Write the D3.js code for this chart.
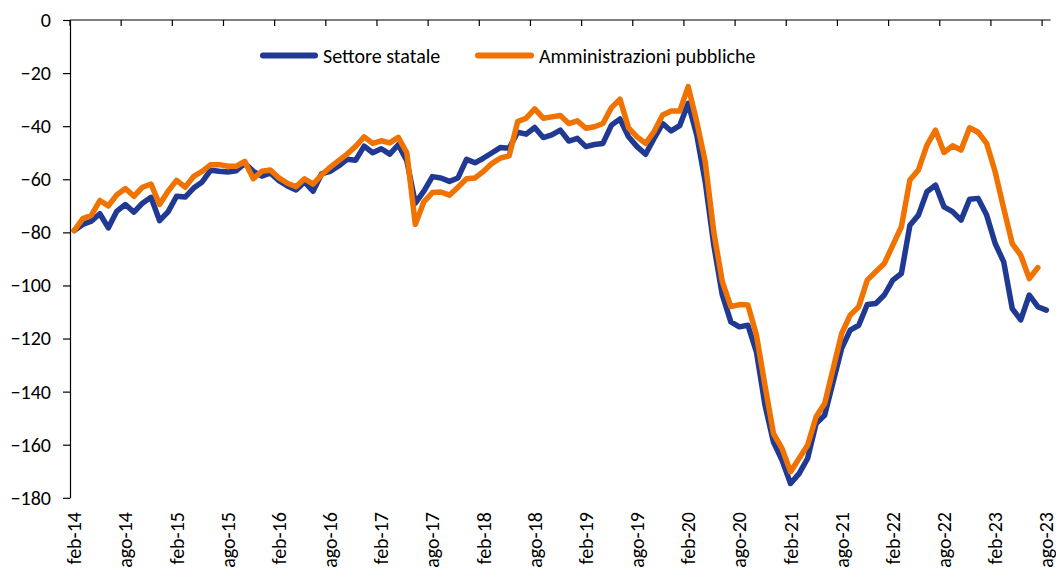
<!DOCTYPE html>
<html>
<head>
<meta charset="utf-8">
<script src="https://cdn.jsdelivr.net/npm/d3@7"></script>
<style>
  html, body { margin: 0; padding: 0; background: #fff; }
  svg { display: block; }
  text { font-family: Carlito, Calibri, Lato, "Noto Sans", sans-serif; fill: #000; }
</style>
</head>
<body>
<svg id="chart" width="1056" height="570"></svg>
<script>
const categories = [
  "feb-14","mar-14","apr-14","mag-14","giu-14","lug-14","ago-14","set-14","ott-14","nov-14","dic-14","gen-15",
  "feb-15","mar-15","apr-15","mag-15","giu-15","lug-15","ago-15","set-15","ott-15","nov-15","dic-15","gen-16",
  "feb-16","mar-16","apr-16","mag-16","giu-16","lug-16","ago-16","set-16","ott-16","nov-16","dic-16","gen-17",
  "feb-17","mar-17","apr-17","mag-17","giu-17","lug-17","ago-17","set-17","ott-17","nov-17","dic-17","gen-18",
  "feb-18","mar-18","apr-18","mag-18","giu-18","lug-18","ago-18","set-18","ott-18","nov-18","dic-18","gen-19",
  "feb-19","mar-19","apr-19","mag-19","giu-19","lug-19","ago-19","set-19","ott-19","nov-19","dic-19","gen-20",
  "feb-20","mar-20","apr-20","mag-20","giu-20","lug-20","ago-20","set-20","ott-20","nov-20","dic-20","gen-21",
  "feb-21","mar-21","apr-21","mag-21","giu-21","lug-21","ago-21","set-21","ott-21","nov-21","dic-21","gen-22",
  "feb-22","mar-22","apr-22","mag-22","giu-22","lug-22","ago-22","set-22","ott-22","nov-22","dic-22","gen-23",
  "feb-23","mar-23","apr-23","mag-23","giu-23","lug-23","ago-23"
];

const tickLabels = ["feb-14","ago-14","feb-15","ago-15","feb-16","ago-16","feb-17","ago-17","feb-18","ago-18",
  "feb-19","ago-19","feb-20","ago-20","feb-21","ago-21","feb-22","ago-22","feb-23","ago-23"];

const yTicks = [0, -20, -40, -60, -80, -100, -120, -140, -160, -180];

const seriesNames = ["Settore statale", "Amministrazioni pubbliche"];

const settoreStatale = [
  -79.3, -77, -75.8, -73, -78.3, -72, -69.5, -72.4, -69, -66.8, -75.6, -72.3,
  -66.4, -66.7, -63.3, -61, -56.6, -57, -57.3, -56.8, -54, -57, -58.8, -57.6,
  -60.5, -62.5, -64, -61, -64.5, -58, -57, -55, -52.5, -52.8, -47.5, -50,
  -48.5, -50.5, -47, -53, -69, -64.5, -59, -59.5, -60.8, -59.5, -52.5, -53.8,
  -52, -50, -48, -48.3, -42.3, -43, -40.5, -44.3, -43.3, -41.5, -45.6, -44.6,
  -47.7, -46.9, -46.5, -39.6, -37.3, -44, -47.7, -50.6, -44.6, -39, -41.8, -39.8,
  -31.4, -43.3, -61, -84.8, -103.6, -113.7, -115.6, -115, -125, -145, -159, -165.8,
  -174.6, -170.9, -165.2, -152, -148.9, -136.3, -123.7, -116.8, -115, -107.2, -106.8, -103.6,
  -98, -95.5, -77.3, -73.5, -64.7, -62.2, -70.4, -72.2, -75.4, -67.5, -67.2, -73.5,
  -84.2, -91.1, -108.7, -113, -103.6, -108, -109.3
];

const amministrazioniPubbliche = [
  -79.3, -74.8, -73.6, -68, -70, -65.8, -63.5, -66.4, -63, -61.8, -69.5, -64.5,
  -60.4, -63, -58.9, -57, -54.5, -54.5, -55.1, -55.1, -53.3, -59.8, -57, -56.5,
  -59.5, -61.5, -62.8, -59.8, -61.8, -58.4, -55.5, -53, -50.5, -47.6, -44, -46.5,
  -45.5, -46.3, -44.2, -50, -77, -68.5, -65, -64.8, -66, -63, -59.8, -59.5,
  -57, -54, -52, -51.2, -38.3, -37, -33.5, -37, -36.5, -36, -39, -38,
  -40.8, -40.2, -39, -33, -29.8, -40.6, -44, -46.5, -42, -35.8, -34.3, -34.3,
  -25.1, -38.3, -53.4, -79.8, -98.6, -108, -107.2, -107.4, -118.7, -137.6, -155.8, -161.4,
  -170.2, -165.2, -160.2, -149.5, -144.5, -131.3, -118.1, -111.2, -108, -98, -94.8, -91.7,
  -84.8, -77.9, -60.3, -56.5, -47.1, -41.5, -49.9, -47.4, -49, -40.6, -42.3, -46.5,
  -57.2, -71, -84.2, -88.6, -97.4, -93.3
];

const colors = ["#203a93", "#f07200"];

const svg = d3.select("#chart");
const plotLeft = 70, plotRight = 1050.6, plotTop = 20, plotBottom = 497.8;
const fontSize = "20px";

const x = d3.scaleBand().domain(categories).range([plotLeft, plotRight]).paddingInner(0).paddingOuter(0);
const y = d3.scaleLinear().domain([-180, 0]).range([plotBottom, plotTop]);
const cx = c => x(c) + x.bandwidth() / 2;

// Y axis
const yAxis = d3.axisLeft(y).tickValues(yTicks).tickFormat(d3.format("d")).tickSize(7).tickPadding(12).tickSizeOuter(0);
const gy = svg.append("g").attr("transform", `translate(${plotLeft},0)`).call(yAxis);
gy.select(".domain").attr("stroke", "#000").attr("stroke-width", 1.2);
gy.selectAll(".tick line").attr("stroke", "#000").attr("stroke-width", 1.2);
gy.selectAll("text").style("font-size", fontSize).attr("fill", "#000");

// X axis (at value 0, top) with tick marks at category boundaries every 6 months
const gx = svg.append("g").attr("transform", `translate(0,${y(0)})`);
gx.append("line").attr("x1", plotLeft).attr("x2", plotRight).attr("y1", 0).attr("y2", 0)
  .attr("stroke", "#000").attr("stroke-width", 1.2);
const boundaryCats = categories.filter((c, i) => i % 6 === 0);
gx.selectAll("line.tk").data(boundaryCats).join("line").attr("class", "tk")
  .attr("x1", d => x(d)).attr("x2", d => x(d)).attr("y1", 0).attr("y2", 6)
  .attr("stroke", "#000").attr("stroke-width", 1.2);

// X labels at the bottom, rotated
svg.append("g").selectAll("text").data(tickLabels).join("text")
  .attr("transform", d => `translate(${cx(d)},512) rotate(-90)`)
  .attr("text-anchor", "end")
  .attr("dy", "0.35em")
  .style("font-size", fontSize)
  .text(d => d);

// Lines
const series = [settoreStatale, amministrazioniPubbliche];
const line = d3.line().x((d, i) => cx(categories[i])).y(d => y(d));
svg.append("g").selectAll("path").data(series).join("path")
  .attr("d", d => line(d))
  .attr("fill", "none")
  .attr("stroke", (d, i) => colors[i])
  .attr("stroke-width", 5.5)
  .attr("stroke-linejoin", "round")
  .attr("stroke-linecap", "round");

// Legend
const legendItems = [
  { name: seriesNames[0], color: colors[0], x0: 263, x1: 315, tx: 323 },
  { name: seriesNames[1], color: colors[1], x0: 478, x1: 531, tx: 539 }
];
const lg = svg.append("g");
legendItems.forEach(it => {
  lg.append("line").attr("x1", it.x0).attr("x2", it.x1).attr("y1", 55.5).attr("y2", 55.5)
    .attr("stroke", it.color).attr("stroke-width", 6).attr("stroke-linecap", "round");
  lg.append("text").attr("x", it.tx).attr("y", 55.5).attr("dy", "0.35em")
    .style("font-size", fontSize).text(it.name);
});
</script>
</body>
</html>
